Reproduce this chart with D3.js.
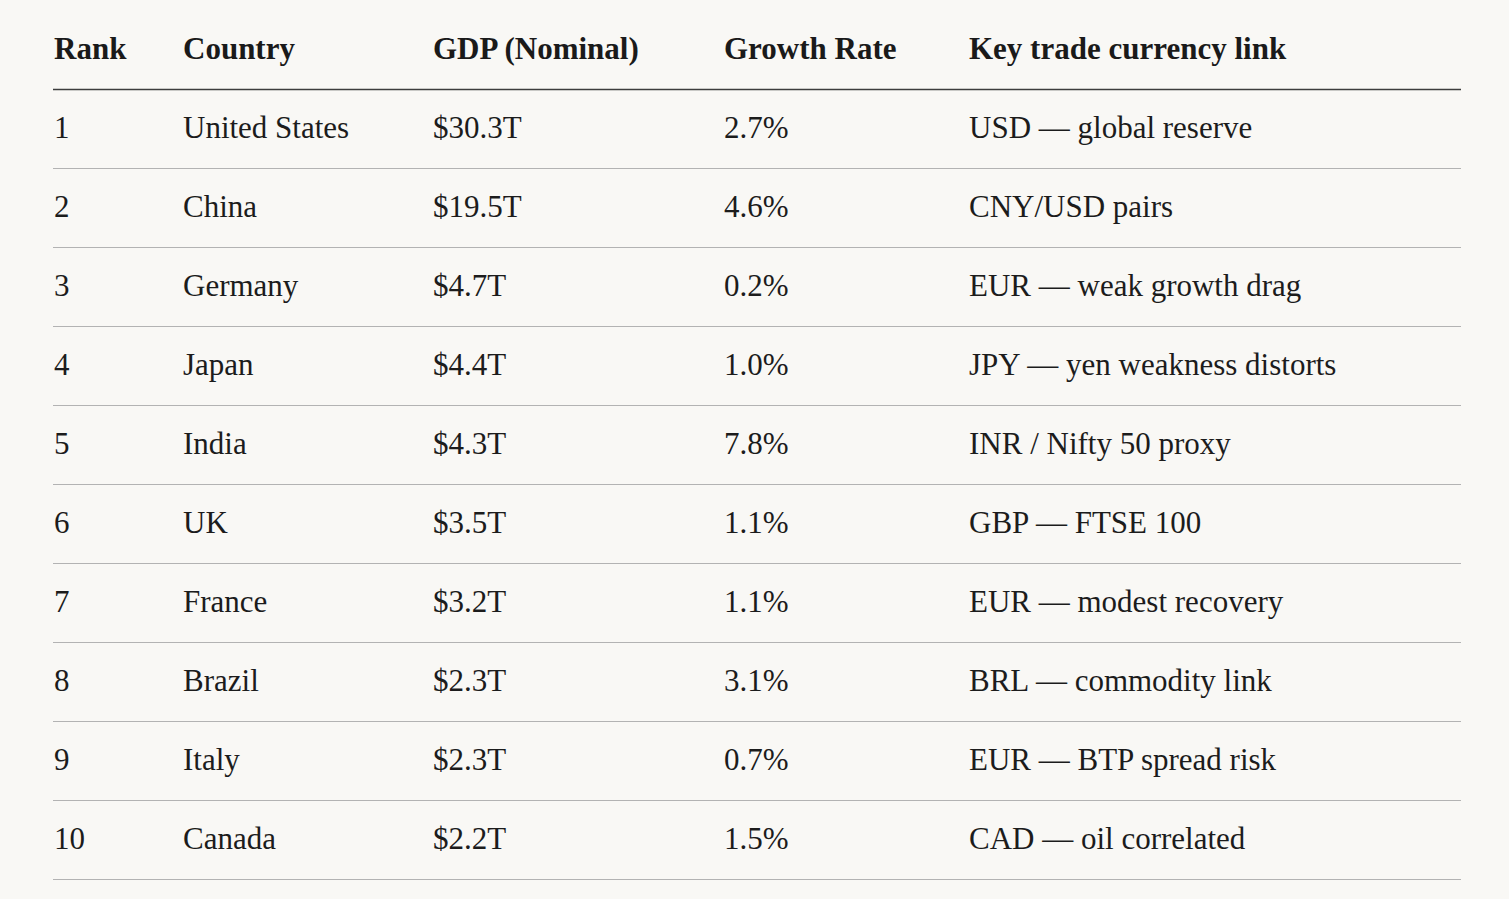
<!DOCTYPE html>
<html><head><meta charset="utf-8">
<script src="https://cdn.jsdelivr.net/npm/d3@7"></script>
<style>html,body{margin:0;padding:0;background:#f9f8f5;}svg{display:block;}</style>
</head><body>
<svg id="c" width="1509" height="899"></svg>
<script>
const headers = ["Rank","Country","GDP (Nominal)","Growth Rate","Key trade currency link"];
const ranks = ["1","2","3","4","5","6","7","8","9","10"];
const countries = ["United States","China","Germany","Japan","India","UK","France","Brazil","Italy","Canada"];
const gdp = ["$30.3T","$19.5T","$4.7T","$4.4T","$4.3T","$3.5T","$3.2T","$2.3T","$2.3T","$2.2T"];
const growth = ["2.7%","4.6%","0.2%","1.0%","7.8%","1.1%","1.1%","3.1%","0.7%","1.5%"];
const links = ["USD — global reserve","CNY/USD pairs","EUR — weak growth drag","JPY — yen weakness distorts","INR / Nifty 50 proxy","GBP — FTSE 100","EUR — modest recovery","BRL — commodity link","EUR — BTP spread risk","CAD — oil correlated"];

const columns = [ranks, countries, gdp, growth, links];
const svg = d3.select("#c");
const colX = d3.scaleOrdinal().domain(d3.range(5)).range([54,183,433,724,969]);
const rowY = d3.scaleLinear().domain([0,1]).range([138,217]);
const left = 53, right = 1461;
const font = "'Liberation Serif', 'Times New Roman', serif";

svg.append("g").selectAll("text").data(headers).join("text")
  .attr("x",(d,i)=>colX(i)).attr("y",59)
  .attr("font-family",font).attr("font-weight",700).attr("font-size",31)
  .attr("fill","#1a1a1a").text(d=>d);

svg.append("line").attr("x1",left).attr("x2",right).attr("y1",89.5).attr("y2",89.5)
  .attr("stroke","#3d3d3d").attr("stroke-width",1.5);

const rows = svg.append("g").selectAll("g").data(ranks).join("g")
  .attr("transform",(d,i)=>`translate(0,${rowY(i)})`);
rows.selectAll("text").data((d,i)=>columns.map(c=>c[i])).join("text")
  .attr("x",(d,j)=>colX(j)).attr("y",0)
  .attr("font-family",font).attr("font-size",31)
  .attr("fill","#1c1c1c").text(d=>d);
rows.append("line").attr("x1",left).attr("x2",right).attr("y1",30.5).attr("y2",30.5)
  .attr("stroke","#b3b3b3").attr("stroke-width",1);
</script>
</body></html>
